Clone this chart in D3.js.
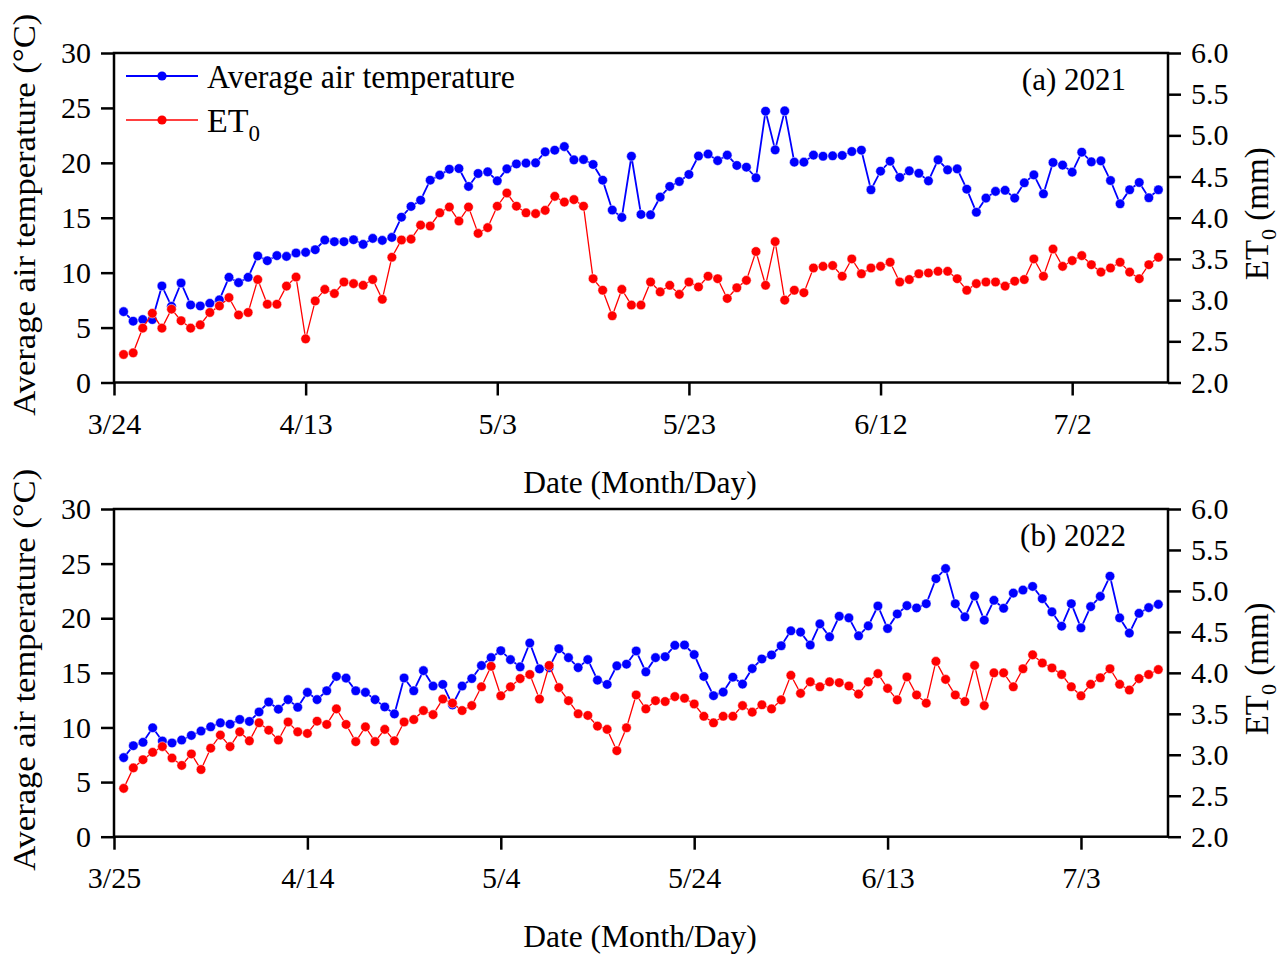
<!DOCTYPE html>
<html>
<head>
<meta charset="utf-8">
<script src="https://cdn.jsdelivr.net/npm/d3@7"></script>
<style>
  body { margin: 0; background: #fff; }
  svg text { font-family: "Liberation Serif", "Times New Roman", serif; fill: #000; }
</style>
</head>
<body>
<svg id="chart" width="1284" height="954"></svg>
<script>
// daily values (first day of each series, then one value per day)
const startA = "2021-03-25";
const startB = "2022-03-26";

const ticksA = ["3/24", "4/13", "5/3", "5/23", "6/12", "7/2"];
const ticksB = ["3/25", "4/14", "5/4", "5/24", "6/13", "7/3"];

const tempTicks = [0, 5, 10, 15, 20, 25, 30];
const et0Ticks = [2.0, 2.5, 3.0, 3.5, 4.0, 4.5, 5.0, 5.5, 6.0];

// 2021 average air temperature (°C)
const tempA = [6.45, 5.58, 5.73, 5.73, 8.79, 6.94, 9.06, 7.06, 6.97, 7.21,
  7.52, 9.58, 9.09, 9.58, 11.52, 11.09, 11.55, 11.48, 11.79, 11.85,
  12.09, 12.97, 12.82, 12.82, 13.0, 12.58, 13.12, 12.94, 13.21, 15.05,
  16.03, 16.6, 18.42, 18.88, 19.42, 19.48, 17.85, 19.03, 19.18, 18.36,
  19.45, 19.9, 19.97, 20.0, 21.0, 21.15, 21.48, 20.27, 20.3, 19.85,
  18.42, 15.7, 15.03, 20.6, 15.3, 15.27, 16.88, 17.85, 18.3, 18.94,
  20.62, 20.8, 20.2, 20.7, 19.76, 19.6, 18.64, 24.7, 21.18, 24.73,
  20.06, 20.06, 20.7, 20.6, 20.64, 20.67, 21.03, 21.15, 17.55, 19.24,
  20.15, 18.67, 19.27, 19.05, 18.36, 20.27, 19.36, 19.45, 17.6, 15.5,
  16.79, 17.4, 17.5, 16.79, 18.18, 18.9, 17.18, 20.03, 19.79, 19.15,
  20.97, 20.09, 20.18, 18.39, 16.27, 17.55, 18.21, 16.82, 17.55];

// 2021 ET0 (mm)
const et0A = [2.34, 2.36, 2.66, 2.84, 2.66, 2.89, 2.75, 2.66, 2.70, 2.85,
  2.93, 3.03, 2.82, 2.85, 3.25, 2.95, 2.95, 3.17, 3.28, 2.53,
  2.99, 3.13, 3.08, 3.22, 3.20, 3.18, 3.25, 3.01, 3.52, 3.73,
  3.74, 3.91, 3.90, 4.06, 4.13, 3.96, 4.13, 3.81, 3.88, 4.14,
  4.30, 4.14, 4.06, 4.05, 4.09, 4.26, 4.19, 4.22, 4.14, 3.26,
  3.12, 2.81, 3.13, 2.94, 2.94, 3.22, 3.10, 3.18, 3.07, 3.22,
  3.16, 3.29, 3.26, 3.02, 3.15, 3.24, 3.59, 3.18, 3.71, 3.00,
  3.12, 3.09, 3.39, 3.41, 3.42, 3.29, 3.50, 3.32, 3.39, 3.41,
  3.46, 3.22, 3.25, 3.32, 3.33, 3.35, 3.35, 3.26, 3.12, 3.20,
  3.22, 3.22, 3.17, 3.23, 3.25, 3.50, 3.29, 3.62, 3.41, 3.48,
  3.54, 3.43, 3.34, 3.39, 3.46, 3.34, 3.26, 3.43, 3.52];

// 2022 average air temperature (°C)
const tempB = [7.24, 8.33, 8.64, 9.97, 8.76, 8.58, 8.85, 9.27, 9.67, 10.06,
  10.42, 10.3, 10.73, 10.55, 11.42, 12.33, 11.67, 12.55, 11.85, 13.21,
  12.55, 13.36, 14.67, 14.52, 13.36, 13.21, 12.55, 11.88, 11.24, 14.53,
  13.36, 15.2, 13.79, 13.94, 12.06, 13.79, 14.48, 15.67, 16.39, 17.03,
  16.21, 15.55, 17.73, 15.36, 15.48, 17.21, 16.39, 15.48, 16.21, 14.33,
  13.94, 15.64, 15.79, 17.0, 15.09, 16.39, 16.48, 17.52, 17.55, 16.67,
  14.67, 12.91, 13.24, 14.6, 13.97, 15.39, 16.27, 16.64, 17.48, 18.85,
  18.73, 17.55, 19.48, 18.3, 20.18, 20.03, 18.39, 19.3, 21.12, 19.06,
  20.39, 21.15, 20.94, 21.33, 23.62, 24.55, 21.33, 20.12, 22.03, 19.82,
  21.64, 20.91, 22.3, 22.58, 22.91, 21.79, 20.58, 19.27, 21.33, 19.12,
  21.06, 22.0, 23.85, 20.03, 18.64, 20.45, 20.97, 21.27];

// 2022 ET0 (mm)
const et0B = [2.59, 2.84, 2.94, 3.03, 3.10, 2.96, 2.87, 3.01, 2.82, 3.08,
  3.24, 3.10, 3.28, 3.17, 3.39, 3.30, 3.18, 3.40, 3.28, 3.26,
  3.41, 3.37, 3.56, 3.37, 3.16, 3.34, 3.16, 3.31, 3.17, 3.40,
  3.43, 3.54, 3.49, 3.68, 3.63, 3.54, 3.60, 3.83, 4.08, 3.72,
  3.83, 3.93, 3.98, 3.68, 4.09, 3.82, 3.66, 3.50, 3.48, 3.35,
  3.31, 3.05, 3.33, 3.73, 3.56, 3.66, 3.65, 3.71, 3.69, 3.62,
  3.47, 3.39, 3.47, 3.47, 3.60, 3.52, 3.61, 3.56, 3.67, 3.97,
  3.75, 3.89, 3.83, 3.89, 3.88, 3.84, 3.74, 3.89, 3.99, 3.81,
  3.67, 3.95, 3.73, 3.63, 4.14, 3.92, 3.73, 3.65, 4.09, 3.60,
  4.00, 4.00, 3.83, 4.05, 4.22, 4.12, 4.06, 3.98, 3.83, 3.72,
  3.86, 3.94, 4.05, 3.86, 3.79, 3.93, 3.98, 4.04];

const svg = d3.select('#chart');
const FONT = 30;
const SERIF = '"Liberation Serif", "Times New Roman", serif';

const drawPanel = (cfg) => {
    const { left, right, top, bottom } = cfg;
    const year = cfg.start.slice(0, 4);
    const start = d3.utcParse('%Y-%m-%d')(cfg.start);
    const n = cfg.temp.length;
    const dates = d3.range(n).map(i => d3.utcDay.offset(start, i));

    //one empty day before and after the data, like the original axes
    const x = d3.scaleUtc()
        .domain([d3.utcDay.offset(start, -1), d3.utcDay.offset(start, n)])
        .range([left, right]);
    const yT = d3.scaleLinear().domain([0, 30]).range([bottom, top]);
    const yE = d3.scaleLinear().domain([2, 6]).range([bottom, top]);

    const tickDates = cfg.ticks.map(t => d3.utcParse('%Y/%m/%d')(year + '/' + t));

    const g = svg.append('g');

    // d3 puts sans-serif 10px on the axis group, override it
    const styleAxis = sel => {
        sel.attr('font-family', SERIF).attr('font-size', FONT);
        sel.selectAll('.tick line').attr('stroke', '#000').attr('stroke-width', 2.5);
        sel.selectAll('.tick text')
            .attr('font-family', SERIF)
            .style('font-size', FONT + 'px')
            .style('font-family', SERIF);
        sel.select('.domain').remove();
    };

    g.append('g')
        .attr('transform', `translate(${left},0)`)
        .call(d3.axisLeft(yT).tickValues(tempTicks).tickSize(13).tickSizeOuter(0).tickPadding(10))
        .call(styleAxis);

    g.append('g')
        .attr('transform', `translate(${right},0)`)
        .call(d3.axisRight(yE).tickValues(et0Ticks).tickFormat(d3.format('.1f'))
            .tickSize(13).tickSizeOuter(0).tickPadding(10))
        .call(styleAxis);

    g.append('g')
        .attr('transform', `translate(0,${bottom})`)
        .call(d3.axisBottom(x).tickValues(tickDates).tickFormat((d, i) => cfg.ticks[i])
            .tickSize(13).tickSizeOuter(0).tickPadding(17))
        .call(styleAxis);

    //frame
    g.append('rect')
        .attr('x', left).attr('y', top)
        .attr('width', right - left).attr('height', bottom - top)
        .attr('fill', 'none').attr('stroke', '#000').attr('stroke-width', 2.5);

    const series = [
        { vals: cfg.temp, y: yT, color: '#0000ff', lw: 1.8 },
        { vals: cfg.et0, y: yE, color: '#ff0000', lw: 1.3 }
    ];

    series.forEach(s => {
        const line = d3.line()
            .x((d, i) => x(dates[i]))
            .y(d => s.y(d));
        g.append('path')
            .datum(s.vals)
            .attr('d', line)
            .attr('fill', 'none')
            .attr('stroke', s.color)
            .attr('stroke-width', s.lw);
        g.append('g').selectAll('circle')
            .data(s.vals)
            .enter().append('circle')
            .attr('cx', (d, i) => x(dates[i]))
            .attr('cy', d => s.y(d))
            .attr('r', 4.8)
            .attr('fill', s.color)
            .attr('stroke', '#fff')
            .attr('stroke-width', 0.5);
    });

    //panel label
    g.append('text')
        .attr('x', right - 42).attr('y', top + 37)
        .attr('text-anchor', 'end')
        .style('font-size', '31px')
        .text(cfg.label);

    //axis titles
    g.append('text')
        .attr('x', (left + right) / 2 - 1).attr('y', bottom + 110.5)
        .attr('text-anchor', 'middle')
        .style('font-size', '31.5px')
        .text('Date (Month/Day)');

    const cy = (top + bottom) / 2 - 3;
    g.append('text')
        .attr('transform', `translate(35,${cy}) rotate(-90)`)
        .attr('text-anchor', 'middle')
        .attr('textLength', 402)
        .attr('lengthAdjust', 'spacingAndGlyphs')
        .style('font-size', '31px')
        .text('Average air temperature (°C)');

    const et = g.append('text')
        .attr('transform', `translate(1268,${cy - 1}) rotate(-90)`)
        .attr('text-anchor', 'middle')
        .style('font-size', '33px');
    et.append('tspan').text('ET');
    et.append('tspan').attr('dy', 8).style('font-size', '22px').text('0');
    et.append('tspan').attr('dy', -8).text(' (mm)');
};

drawPanel({ start: startA, temp: tempA, et0: et0A, ticks: ticksA, label: '(a) 2021',
    left: 114, right: 1168, top: 53, bottom: 382.5 });
drawPanel({ start: startB, temp: tempB, et0: et0B, ticks: ticksB, label: '(b) 2022',
    left: 114, right: 1168, top: 509, bottom: 836.7 });

// legend in the top panel
const legend = svg.append('g');
const legendItems = [
    { name: 'Average air temperature', color: '#0000ff', lw: 1.8, y: 76 },
    { name: 'ET', sub: '0', color: '#ff0000', lw: 1.3, y: 120 }
];
legendItems.forEach(d => {
    legend.append('line')
        .attr('x1', 126).attr('x2', 198).attr('y1', d.y).attr('y2', d.y)
        .attr('stroke', d.color).attr('stroke-width', d.lw);
    legend.append('circle')
        .attr('cx', 162).attr('cy', d.y).attr('r', 4.6)
        .attr('fill', d.color);
    const t = legend.append('text')
        .attr('x', 207).attr('y', d.y + 11.5)
        .style('font-size', '34px');
    if (d.sub) {
        t.append('tspan').text(d.name);
        t.append('tspan').attr('dy', 9).style('font-size', '23px').text(d.sub);
    } else {
        t.attr('textLength', 308).attr('lengthAdjust', 'spacingAndGlyphs').text(d.name);
    }
});
</script>
</body>
</html>
